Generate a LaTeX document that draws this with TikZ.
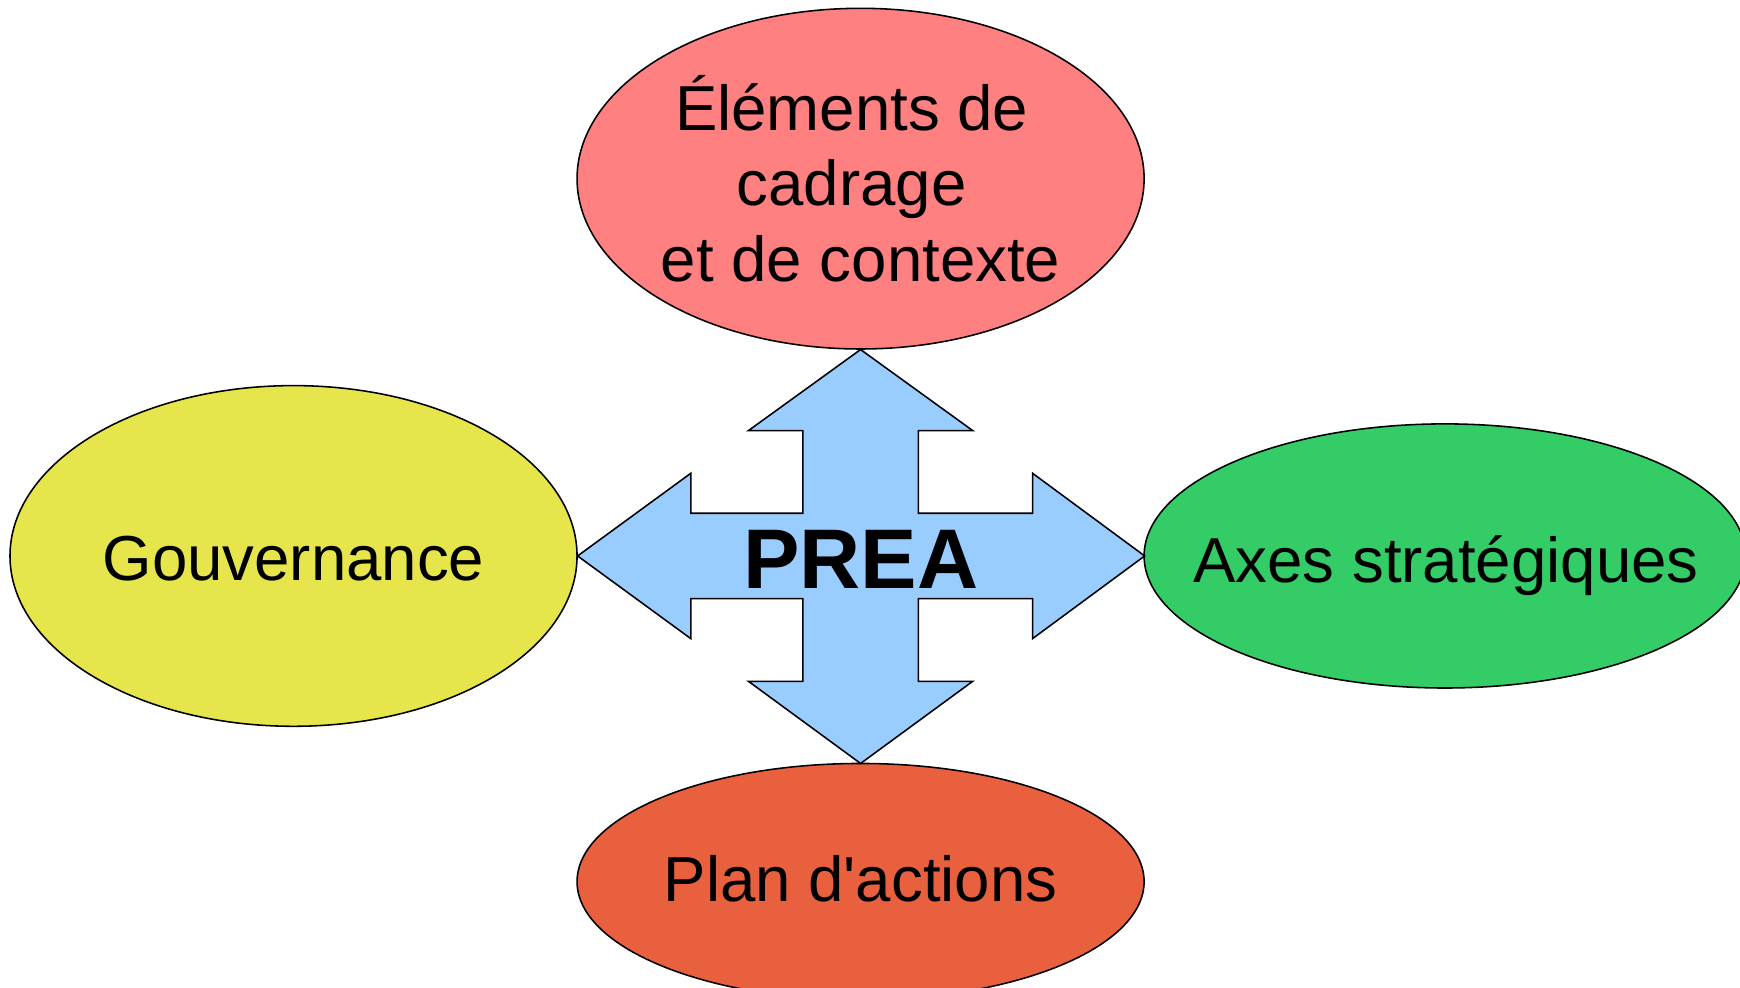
\documentclass[tikz,border=0pt]{standalone}
\usepackage{fontspec}
\setmainfont{Liberation Sans}
\usepackage{xcolor}
\usepackage{tikz}
\usetikzlibrary{shapes.geometric, positioning}
\definecolor{cadrageRed}{HTML}{FF8080}
\definecolor{gouvYellow}{HTML}{E6E64C}
\definecolor{axesGreen}{HTML}{33CC66}
\definecolor{planOrange}{HTML}{E9603F}
\definecolor{arrowBlue}{HTML}{99CCFF}
\tikzset{main node/.style={ellipse, draw=black, line width=0.4pt, inner sep=0pt},
  main text/.style={inner sep=0pt, align=center, font=\fontsize{16.3}{19.4}\selectfont}}

\begin{document}
\begin{tikzpicture}[-, arrow body/.style={fill=arrowBlue, draw=black, line width=0.4pt, line join=miter}]

  \useasboundingbox (0,0) rectangle (15.68,-8.90);

%DRAWING ELLIPSES
  \coordinate (center) at (7.755,-5.01);
  \node[main node, fill=cadrageRed, minimum width=5.11cm, minimum height=3.07cm] (cadrage)
    [shift={(0,3.40)}] at (center) {};
  \node[main node, fill=gouvYellow, minimum width=5.11cm, minimum height=3.07cm] (gouv)
    [shift={(-5.11,0)}] at (center) {};
  \node[main node, fill=axesGreen, minimum width=5.42cm, minimum height=2.38cm] (axes)
    [shift={(5.265,0)}] at (center) {};
  \node[main node, fill=planOrange, minimum width=5.11cm, minimum height=2.13cm] (plan)
    [shift={(0,-2.935)}] at (center) {};

%TEXTS
  \node[main text] (cadrageText) at (cadrage)
    {\mbox{Éléments de\hspace{0.16cm}}\\\mbox{cadrage\hspace{0.16cm}}\\et de contexte};
  \node[main text, anchor=base] (gouvText) [shift={(0,-0.225)}] at (gouv) {Gouvernance};
  \node[main text, anchor=base] (axesText) [shift={(0.01,-0.235)}] at (axes) {Axes stratégiques};
  \node[main text, anchor=base] (planText) [shift={(0,-0.18)}] at (plan) {Plan d\textquotesingle actions};

%DRAWING CROSS ARROW
  \draw[arrow body] [shift={(center)}]
    (0,1.86) -- (1.01,1.13) -- (0.52,1.13) -- (0.52,0.385) -- (1.55,0.385) -- (1.55,0.745)
    -- (2.56,0) -- (1.55,-0.745) -- (1.55,-0.385) -- (0.52,-0.385) -- (0.52,-1.13)
    -- (1.01,-1.13) -- (0,-1.87) -- (-1.01,-1.13) -- (-0.52,-1.13) -- (-0.52,-0.385)
    -- (-1.53,-0.385) -- (-1.53,-0.745) -- (-2.55,0) -- (-1.53,0.745) -- (-1.53,0.385)
    -- (-0.52,0.385) -- (-0.52,1.13) -- (-1.01,1.13) -- cycle;

  \node[font=\fontsize{21.7}{26}\selectfont\bfseries, inner sep=0pt] (prea)
    [shift={(0,-0.035)}] at (center) {PREA};

\end{tikzpicture}
\end{document}
